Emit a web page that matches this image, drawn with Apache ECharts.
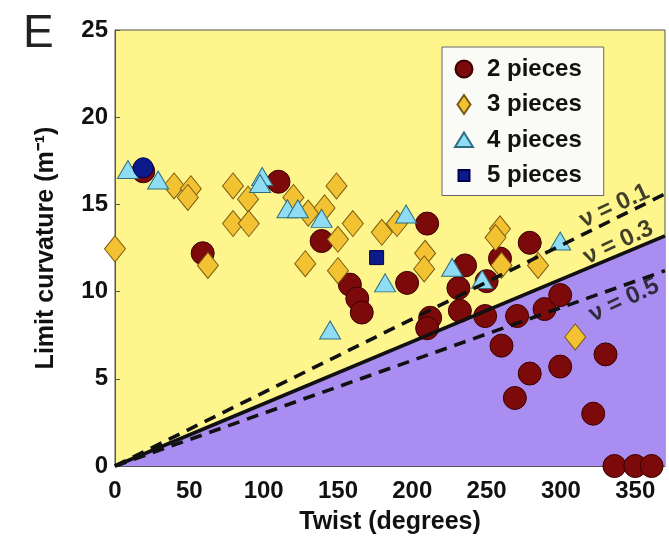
<!DOCTYPE html>
<html>
<head>
<meta charset="utf-8">
<script src="https://cdn.jsdelivr.net/npm/echarts@6/dist/echarts.min.js"></script>
<style>
html,body{margin:0;padding:0;background:#fff;}
#c{width:669px;height:537px;}
</style>
</head>
<body>
<div id="c"></div>
<script>
// ---- data (Twist in degrees, Limit curvature in 1/m) ----
const twoPieces = [
  [19,16.9],[59,12.2],[110,16.3],[139,12.9],[158,10.4],[163,9.6],[166,8.8],
  [196.5,10.5],[210,13.9],[212,8.5],[210,7.9],[231,10.2],[232,8.9],[235.5,11.5],
  [250,10.6],[249,8.6],[259,11.9],[279,12.8],[270.5,8.6],[289,9.0],[299.5,9.8],
  [260,6.9],[279,5.3],[299.5,5.7],[330,6.4],[269,3.9],[321.7,3.0],
  [336,0],[350,0],[361,0]
];
const threePieces = [
  [0,12.45],[39.7,16.06],[51,15.9],[49,15.4],[62.5,11.5],[79.4,16.06],[89.5,15.3],
  [79.4,13.9],[90,13.9],[120,15.4],[128,11.6],[149,16.06],[130,14.5],[141,14.8],
  [150,13.0],[160,13.9],[150,11.2],[179.5,13.4],[189.7,13.9],[208.6,12.2],[208,11.3],
  [259,13.6],[256,13.1],[260,11.5],[284.6,11.5],[309.6,7.4]
];
const fourPieces = [
  [8.7,17.0],[29,16.4],[99,16.6],[97.6,16.2],[116,14.75],[123,14.75],[139,14.2],
  [144.7,7.8],[181.7,10.5],[195.8,14.45],[226.8,11.4],[247,10.7],[299.5,12.9]
];
const fivePieces = [[19,17.1],[176,11.95]];

const nu01 = [[0,0],[370,15.6]];
const nu03 = [[0,0],[370,13.2]];
const nu05 = [[0,0],[370,11.2]];

const nuLabels = ['\u03bd = 0.1','\u03bd = 0.3','\u03bd = 0.5'];
const nuLabelAt = [[336,14.9],[338.5,12.8],[342.5,9.5]];

const seriesNames = ['2 pieces','3 pieces','4 pieces','5 pieces'];
const xTicks = [0,50,100,150,200,250,300,350];
const yTicks = [0,5,10,15,20,25];

// ---- chart ----
const FONT = 'Liberation Sans, Arial, Helvetica, sans-serif';
const chart = echarts.init(document.getElementById('c'), null, {renderer:'canvas'});

const fiveData = fivePieces.map((p,i)=> i===0 ? {value:p, symbol:'circle', symbolSize:20} : {value:p});

chart.setOption({
  animation:false,
  backgroundColor:'#ffffff',
  title:{text:'E', left:18, top:6, textStyle:{fontFamily:FONT, fontSize:46, fontWeight:'normal', color:'#222'}},
  grid:{left:115, top:30, width:550, height:436, show:true, backgroundColor:'#FEF68C',
        borderColor:'#555', borderWidth:1, containLabel:false, outerBoundsMode:'none'},
  legend:{
    orient:'vertical', left:442, top:47,
    data:[
      {name:seriesNames[0], icon:'path://M0,0M18,20M0.5,10A8.5,8.5 0 1,1 17.5,10A8.5,8.5 0 1,1 0.5,10Z'},
      {name:seriesNames[1], icon:'path://M0,0M18,20M9,0.5L15.5,10L9,19.5L2.5,10Z'},
      {name:seriesNames[2], icon:'path://M0,0M18,20M9,2.5L18,17L0,17Z'},
      {name:seriesNames[3], icon:'path://M0,0M18,20M3.5,4.5L14.5,4.5L14.5,15.5L3.5,15.5Z'}
    ],
    itemWidth:18, itemHeight:20, itemGap:11.5,
    padding:[10,22,8,12],
    backgroundColor:'#FAFAF7', borderColor:'#666', borderWidth:1,
    textStyle:{fontFamily:FONT, fontSize:24, fontWeight:'bold', color:'#111', padding:[0,0,0,9], lineHeight:22},
    selectedMode:false
  },
  xAxis:{
    type:'value', min:0, max:370, interval:50,
    name:'Twist (degrees)', nameLocation:'middle', nameGap:44,
    nameTextStyle:{fontFamily:FONT, fontSize:25, fontWeight:'bold', color:'#111'},
    axisLine:{show:true, lineStyle:{color:'#555', width:1}},
    axisTick:{show:true, inside:true, length:5, lineStyle:{color:'#555'}},
    axisLabel:{fontFamily:FONT, fontSize:24, fontWeight:'bold', color:'#111', margin:13,
               showMaxLabel:false,
               formatter:(v)=> xTicks.indexOf(v)>=0 ? String(v) : ''},
    splitLine:{show:false}
  },
  yAxis:{
    type:'value', min:0, max:25, interval:5,
    name:'Limit curvature (m\u207b\u00b9)', nameLocation:'middle', nameGap:56, nameRotate:90,
    nameTextStyle:{fontFamily:FONT, fontSize:25, fontWeight:'bold', color:'#111'},
    axisLine:{show:true, lineStyle:{color:'#555', width:1}},
    axisTick:{show:true, inside:true, length:5, lineStyle:{color:'#555'}},
    axisLabel:{fontFamily:FONT, fontSize:24, fontWeight:'bold', color:'#111', margin:7,
               formatter:(v)=> yTicks.indexOf(v)>=0 ? String(v) : ''},
    splitLine:{show:false}
  },
  series:[
    {type:'line', data:nu03, symbol:'none', z:1, silent:true,
     lineStyle:{width:0}, areaStyle:{color:'#A98DF0', opacity:1, origin:'start'}},
    {name:seriesNames[0], type:'scatter', data:twoPieces, symbol:'circle', symbolSize:23, z:2,
     itemStyle:{color:'#7D0A0A', borderColor:'#3A0000', borderWidth:1, opacity:1}},
    {name:seriesNames[1], type:'scatter', data:threePieces, symbol:'diamond', symbolSize:[21,26], z:2,
     itemStyle:{color:'#F2C232', borderColor:'#7A5A12', borderWidth:1, opacity:1}},
    {name:seriesNames[2], type:'scatter', data:fourPieces, symbol:'triangle', symbolSize:[21,18], z:2,
     itemStyle:{color:'#8EDDF5', borderColor:'#2E6E80', borderWidth:1, opacity:1}},
    {name:seriesNames[3], type:'scatter', data:fiveData, symbol:'rect', symbolSize:14, z:2,
     itemStyle:{color:'#0D1A8A', borderColor:'#000050', borderWidth:1, opacity:1}},
    {type:'line', data:nu01, symbol:'none', z:3, silent:true,
     lineStyle:{color:'#111', width:3.6, type:[12,8]}},
    {type:'line', data:nu03, symbol:'none', z:3, silent:true,
     lineStyle:{color:'#111', width:3.6}},
    {type:'line', data:nu05, symbol:'none', z:3, silent:true,
     lineStyle:{color:'#111', width:3.6, type:[12,8]}},
    {type:'scatter', z:4, silent:true, symbolSize:2, itemStyle:{color:'rgba(0,0,0,0)', borderWidth:0},
     data:nuLabels.map((t,i)=>({name:t, value:nuLabelAt[i]})),
     label:{show:true, position:'inside', rotate:25, formatter:(p)=>p.name,
            fontFamily:FONT, fontSize:24, fontWeight:'bold', color:'#111'}}
  ]
});
</script>
</body>
</html>
